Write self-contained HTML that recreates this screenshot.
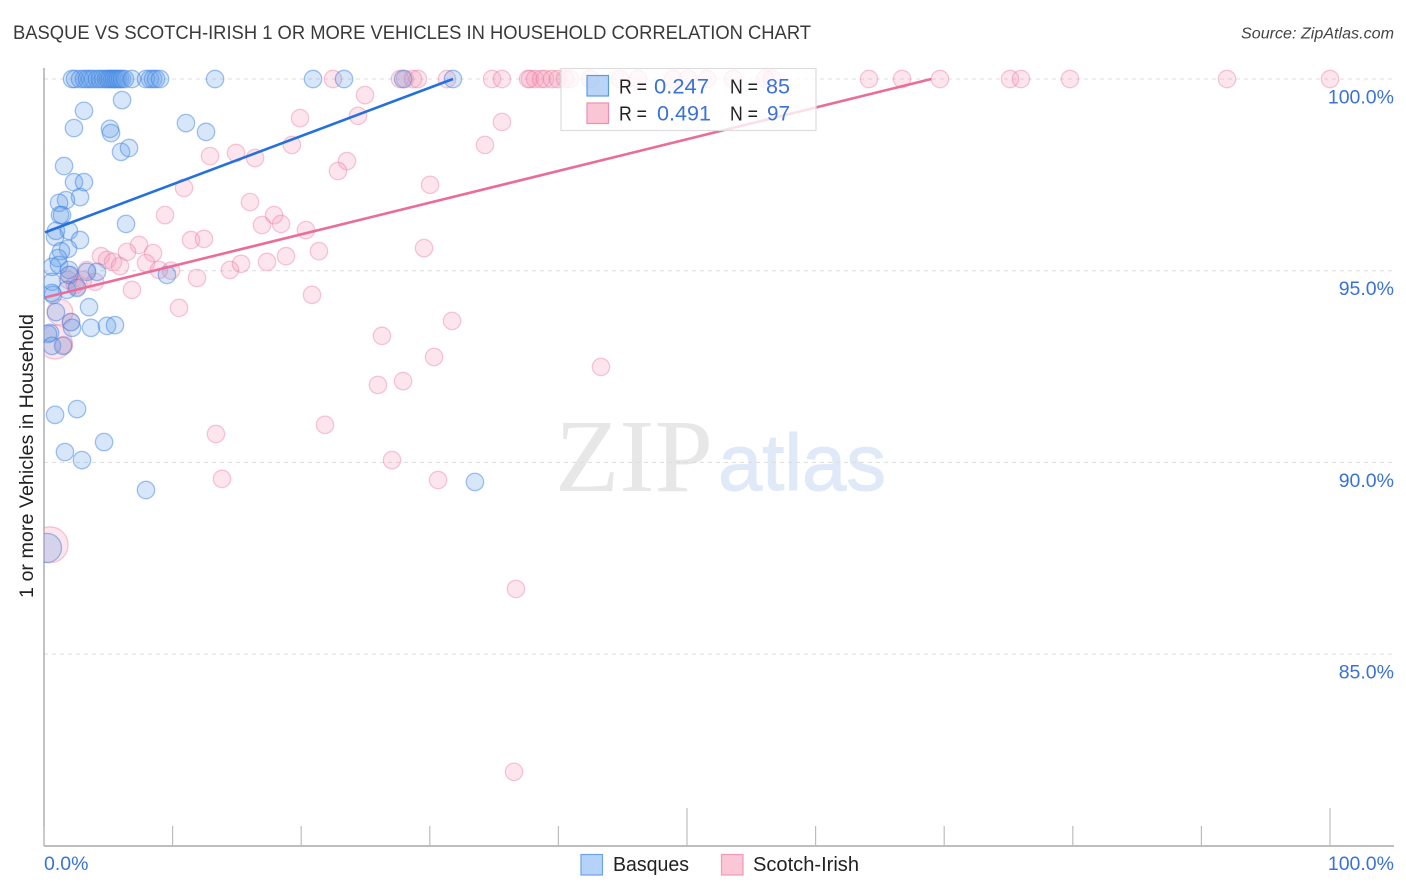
<!DOCTYPE html>
<html>
<head>
<meta charset="utf-8">
<title>Basque vs Scotch-Irish Correlation Chart</title>
<style>
html,body{margin:0;padding:0;background:#fff;}
svg{display:block;font-family:"Liberation Sans",sans-serif;}
</style>
</head>
<body>
<svg id="chart" xmlns="http://www.w3.org/2000/svg" width="1406" height="892" viewBox="0 0 1406 892">
  <defs><clipPath id="plot-clip"><rect x="44" y="60" width="1362" height="786"/></clipPath></defs>
  <text x="13" y="39" font-size="19" fill="#3a3a3a" textLength="798" lengthAdjust="spacingAndGlyphs">BASQUE VS SCOTCH-IRISH 1 OR MORE VEHICLES IN HOUSEHOLD CORRELATION CHART</text>
  <text x="1394" y="38.5" font-size="15.5" font-style="italic" fill="#444" text-anchor="end" textLength="153" lengthAdjust="spacingAndGlyphs">Source: ZipAtlas.com</text>
  <text transform="translate(33,598) rotate(-90)" font-size="19.5" fill="#222" textLength="284" lengthAdjust="spacingAndGlyphs">1 or more Vehicles in Household</text>
  <text x="555" y="491" font-family="'Liberation Serif',serif" font-size="104" fill="#e7e7e7" textLength="158" lengthAdjust="spacingAndGlyphs">ZIP</text>
  <text x="718" y="490" font-size="80" fill="#dfe9f7" stroke="#dfe9f7" stroke-width="1" textLength="168" lengthAdjust="spacingAndGlyphs">atlas</text>
  <g id="grid"></g>
  <g id="axes"></g>
  <g id="points" clip-path="url(#plot-clip)"></g>
  <g id="trends"></g>

  <g>
    <rect x="561" y="68.5" width="255" height="62" fill="#fff" fill-opacity="0.78" stroke="#dcdcdc" stroke-width="1.2"/>
    <rect x="587" y="75.5" width="21.5" height="20.5" fill="#7fb0ee" fill-opacity="0.55" stroke="#5a9be8" stroke-width="1.2"/>
    <rect x="587" y="103" width="21.5" height="20.5" fill="#f8a8c0" fill-opacity="0.65" stroke="#ee8fae" stroke-width="1.2"/>
    <text x="619" y="93.5" font-size="20" fill="#222" textLength="28" lengthAdjust="spacingAndGlyphs">R =</text>
    <text x="654" y="93.5" font-size="21.5" fill="#3b72d6" textLength="55" lengthAdjust="spacingAndGlyphs">0.247</text>
    <text x="730" y="93.5" font-size="20" fill="#222" textLength="28" lengthAdjust="spacingAndGlyphs">N =</text>
    <text x="766" y="93.5" font-size="21.5" fill="#3b72d6" textLength="24" lengthAdjust="spacingAndGlyphs">85</text>
    <text x="619" y="120.5" font-size="20" fill="#222" textLength="28" lengthAdjust="spacingAndGlyphs">R =</text>
    <text x="657" y="120.5" font-size="21.5" fill="#3b72d6" textLength="54" lengthAdjust="spacingAndGlyphs">0.491</text>
    <text x="730" y="120.5" font-size="20" fill="#222" textLength="28" lengthAdjust="spacingAndGlyphs">N =</text>
    <text x="767" y="120.5" font-size="21.5" fill="#3b72d6" textLength="23" lengthAdjust="spacingAndGlyphs">97</text>
  </g>

  <g>
    <rect x="581" y="854.5" width="21.5" height="20.5" fill="#b5d3f8" stroke="#6ba3e6" stroke-width="1.2"/>
    <text x="613" y="871" font-size="20" fill="#222" textLength="76" lengthAdjust="spacingAndGlyphs">Basques</text>
    <rect x="721.5" y="854.5" width="21.5" height="20.5" fill="#fbc6d6" stroke="#f09ab5" stroke-width="1.2"/>
    <text x="753" y="871" font-size="20" fill="#222" textLength="106" lengthAdjust="spacingAndGlyphs">Scotch-Irish</text>
  </g>
</svg>
<script>
var yGridValues = [100, 95, 90, 85];
var yTickLabels = ["100.0%", "95.0%", "90.0%", "85.0%"];
var xTickValues = [0, 10, 20, 30, 40, 50, 60, 70, 80, 90, 100];
var xMajorTicks = [50, 100];
var xEndLabels = ["0.0%", "100.0%"];

var basquesX = [2.18,2.41,2.8,3.11,3.34,3.58,3.81,4.12,4.35,4.59,4.82,4.98,5.13,5.29,5.44,5.6,5.75,5.91,6.07,6.3,6.84,7.93,8.24,8.48,8.71,9.02,13.3,20.92,23.33,27.92,31.8,
  6.07,3.11,2.33,5.13,5.21,11.04,12.6,5.99,6.61,1.56,2.33,3.11,2.8,1.71,1.17,6.38,1.24,1.4,0.86,0.93,1.94,2.8,1.87,1.32,1.09,0.62,1.17,1.94,4.12,3.34,1.94,9.56,0.62,1.79,2.57,0.62,0.7,0.93,3.5,2.1,2.18,3.65,4.9,5.52,0.47,0.31,0.62,1.48,0.86,2.57,1.63,2.95,4.67,7.93,33.51];
var basquesY = [100,100,100,100,100,100,100,100,100,100,100,100,100,100,100,100,100,100,100,100,100,100,100,100,100,100,100,100,100,100,100,
  99.45,99.17,98.72,98.7,98.59,98.85,98.62,98.1,98.2,97.73,97.31,97.31,96.92,96.84,96.77,96.22,96.45,96.45,95.88,96.04,96.04,95.8,95.57,95.51,95.33,95.1,95.15,95.02,94.97,94.97,94.89,94.89,94.71,94.5,94.55,94.42,94.37,93.92,94.05,93.66,93.51,93.51,93.56,93.58,93.38,93.35,93.04,93.04,91.24,91.39,90.27,90.06,90.53,89.28,89.49];
var basquesLargeX = [0.23];
var basquesLargeY = [87.77];
var basquesLargeWeight = [2.8];

var scotchX = [22.47,27.68,28.07,28.69,29.08,31.34,34.84,35.61,37.64,37.79,38.18,38.65,38.96,39.5,39.97,40.51,40.9,42.46,44.79,46.19,48.91,50.08,51.56,53.58,56.07,56.61,64.15,66.72,69.67,75.12,75.97,79.78,91.99,100,
  19.91,24.96,24.42,35.61,34.29,12.91,14.93,16.41,19.28,23.56,22.86,30.02,10.89,16.02,9.41,17.89,16.95,18.43,20.37,11.43,12.44,7.39,6.45,4.43,8.48,4.9,5.37,5.91,7.93,8.94,9.88,3.34,11.9,14.46,15.32,17.34,18.82,21.38,29.55,3.97,3.03,2.57,1.87,6.84,10.5,20.84,26.28,31.73,30.33,25.97,27.92,43.31,21.85,13.37,13.84,27.06,30.64,36.7,36.55,2.41,2.1,1.56,2.02];
var scotchY = [100,100,100,100,100,100,100,100,100,100,100,100,100,100,100,100,100,100,100,100,100,100,100,100,100,100,100,100,100,100,100,100,100,100,
  98.98,99.58,99.04,98.88,98.28,97.99,98.07,97.94,98.28,97.86,97.6,97.24,97.16,96.79,96.45,96.45,96.19,96.22,96.06,95.8,95.83,95.67,95.49,95.38,95.46,95.28,95.23,95.12,95.2,95.02,95,95.02,94.81,95.02,95.18,95.23,95.38,95.51,95.59,94.71,94.76,94.58,94.76,94.5,94.03,94.37,93.3,93.69,92.75,92.02,92.12,92.49,90.98,90.74,89.57,90.06,89.54,86.7,81.93,94.63,93.66,93.06,94.89];
var scotchLargeX = [1.24,0.86,0.47];
var scotchLargeY = [93.92,93.14,87.85];
var scotchLargeWeight = [2.2,3.8,4.3];

var basquesTrendX = [0, 31.8];
var basquesTrendY = [96.0, 100];
var scotchTrendX = [0, 69];
var scotchTrendY = [94.3, 100];

var SVGNS = "http://www.w3.org/2000/svg";
var BASE_RADIUS = 8.7;
function xScale(v) { return 44 + v * 12.86; }
function yScale(v) { return 79 + (100 - v) * 38.34; }
function make(tag, attrs, parent) {
  var el = document.createElementNS(SVGNS, tag);
  for (var k in attrs) { el.setAttribute(k, attrs[k]); }
  parent.appendChild(el);
  return el;
}

var gridGroup = document.getElementById("grid");
var axesGroup = document.getElementById("axes");
var pointsGroup = document.getElementById("points");
var trendsGroup = document.getElementById("trends");

yGridValues.forEach(function (v, i) {
  var line = make("line", {x1: 44, x2: 1394, y1: yScale(v), y2: yScale(v), stroke: "#dcdcdc", "stroke-width": 1, "stroke-dasharray": "4 4"}, gridGroup);
  
  
  var label = make("text", {x: 1394, y: yScale(v) + 24.5, "font-size": 19.5, fill: "#3b72d6", "text-anchor": "end"}, axesGroup);
  label.textContent = yTickLabels[i];
  
  
});

var yAxis = make("line", {x1: 44, x2: 44, y1: 68, y2: 846, stroke: "#a8a8a8", "stroke-width": 1.4}, axesGroup);


var xAxis = make("line", {x1: 44, x2: 1394, y1: 846, y2: 846, stroke: "#a8a8a8", "stroke-width": 1.4}, axesGroup);



xTickValues.forEach(function (v) {
  var top = xMajorTicks.indexOf(v) >= 0 ? 808 : 826;
  var tick = make("line", {x1: xScale(v), x2: xScale(v), y1: top, y2: 846, stroke: "#bdbdbd", "stroke-width": 1.2}, axesGroup);
  
  
});

var xLabelStart = make("text", {x: xScale(0), y: 870, "font-size": 19.5, fill: "#3b72d6"}, axesGroup);
xLabelStart.textContent = xEndLabels[0];


var xLabelEnd = make("text", {x: 1394, y: 870, "font-size": 19.5, fill: "#3b72d6", "text-anchor": "end"}, axesGroup);
xLabelEnd.textContent = xEndLabels[1];



var blueStyle = {fill: "rgba(100,160,232,0.26)", stroke: "rgba(60,130,225,0.48)", "stroke-width": 1.3};
var pinkStyle = {fill: "rgba(245,150,180,0.25)", stroke: "rgba(235,115,155,0.38)", "stroke-width": 1.3};

function drawPoint(xv, yv, weight, style) {
  var attrs = {cx: xScale(xv), cy: yScale(yv), r: BASE_RADIUS * Math.sqrt(weight)};
  for (var k in style) { attrs[k] = style[k]; }
  return make("circle", attrs, pointsGroup);
}

scotchX.forEach(function (xv, i) {
  var c = drawPoint(xv, scotchY[i], 1, pinkStyle);
  
  
});
scotchLargeX.forEach(function (xv, i) {
  var c = drawPoint(xv, scotchLargeY[i], scotchLargeWeight[i], pinkStyle);
  
  
});
basquesX.forEach(function (xv, i) {
  var c = drawPoint(xv, basquesY[i], 1, blueStyle);
  
  
});
basquesLargeX.forEach(function (xv, i) {
  var c = drawPoint(xv, basquesLargeY[i], basquesLargeWeight[i], blueStyle);
  
  
});

var blueTrend = make("line", {x1: xScale(basquesTrendX[0]) + 1, y1: yScale(basquesTrendY[0]), x2: xScale(basquesTrendX[1]), y2: yScale(basquesTrendY[1]), stroke: "#2470dc", "stroke-width": 2.6}, trendsGroup);


var pinkTrend = make("line", {x1: xScale(scotchTrendX[0]) + 1, y1: yScale(scotchTrendY[0]), x2: xScale(scotchTrendX[1]), y2: yScale(scotchTrendY[1]), stroke: "#ea6c9a", "stroke-width": 2.6}, trendsGroup);


</script>
</body>
</html>
